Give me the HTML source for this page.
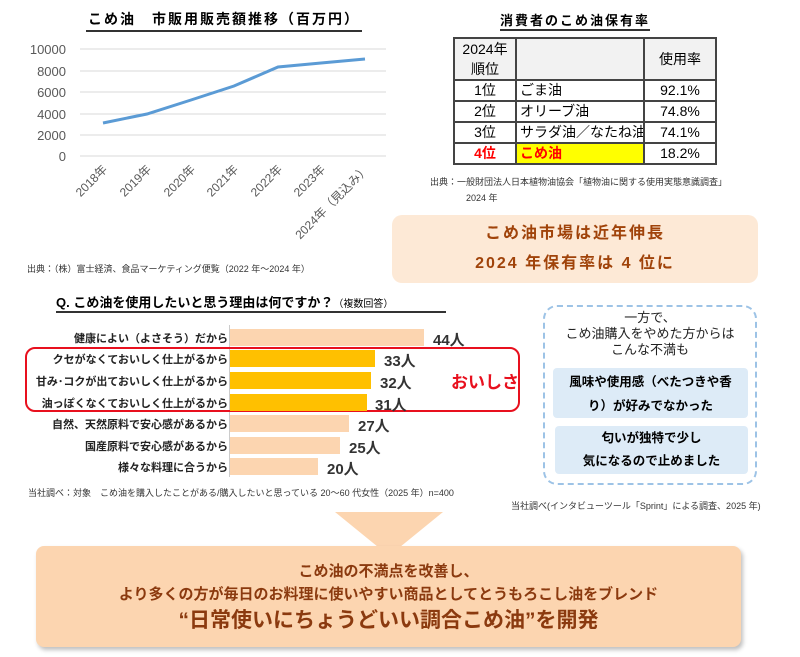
<!DOCTYPE html>
<html><head><meta charset="utf-8"><style>
body{margin:0;width:800px;height:657px;background:#fff;position:relative;overflow:hidden;font-family:"Liberation Sans","Noto Sans CJK JP",sans-serif;}
.a{position:absolute;white-space:nowrap;}
.t{position:absolute;border-collapse:collapse;left:453px;top:37px;font-size:14px;table-layout:fixed;width:262px;}
.t td{border:2px solid #444;padding:0 3px;height:19px;white-space:nowrap;overflow:hidden;line-height:19px;}
.lbl{position:absolute;right:572px;font-size:11px;font-weight:bold;color:#222;}
.bar{position:absolute;left:230px;height:17px;}
.v{position:absolute;font-size:15px;font-weight:bold;color:#333;}
</style></head><body>
<div class="a" style="left:86px;top:9px;font-size:14px;font-weight:bold;letter-spacing:2px;border-bottom:2px solid #333;padding:0 2px 1px">こめ油　市販用販売額推移（百万円）</div>
<svg class="a" style="left:0;top:0" width="400" height="270">
<g stroke="#d9d9d9" stroke-width="1">
<line x1="80" x2="386" y1="49" y2="49"/><line x1="80" x2="386" y1="71" y2="71"/><line x1="80" x2="386" y1="92" y2="92"/><line x1="80" x2="386" y1="114" y2="114"/><line x1="80" x2="386" y1="135" y2="135"/><line x1="80" x2="386" y1="156" y2="156"/></g>
<g font-size="13" fill="#595959" text-anchor="end" font-family="Liberation Sans">
<text x="66" y="54">10000</text><text x="66" y="76">8000</text><text x="66" y="97">6000</text><text x="66" y="119">4000</text><text x="66" y="140">2000</text><text x="66" y="161">0</text></g>
<polyline fill="none" stroke="#5b9bd5" stroke-width="3" points="103,123 147,114 191,100 234,86 278,67 321,63 365,59"/>
<g font-size="12" fill="#595959" text-anchor="end" font-family="Liberation Sans,Noto Sans CJK JP">
<text transform="translate(108,170) rotate(-45)">2018年</text>
<text transform="translate(152,170) rotate(-45)">2019年</text>
<text transform="translate(196,170) rotate(-45)">2020年</text>
<text transform="translate(239,170) rotate(-45)">2021年</text>
<text transform="translate(283,170) rotate(-45)">2022年</text>
<text transform="translate(326,170) rotate(-45)">2023年</text>
<text transform="translate(370,170) rotate(-45)">2024年（見込み）</text>
</g></svg>
<div class="a" style="left:27px;top:262px;font-size:9px;color:#333">出典：（株）富士経済、食品マーケティング便覧（2022 年～2024 年）</div>

<div class="a" style="left:500px;top:10px;font-size:13px;font-weight:bold;letter-spacing:2px;border-bottom:2px solid #333">消費者のこめ油保有率</div>
<table class="t">
<col style="width:62px"><col style="width:128px"><col style="width:72px">
<tr style="background:#f2f2f2"><td style="height:40px;text-align:center;line-height:20px">2024年<br>順位</td><td></td><td style="text-align:center">使用率</td></tr>
<tr><td style="text-align:center">1位</td><td>ごま油</td><td style="text-align:center">92.1%</td></tr>
<tr><td style="text-align:center">2位</td><td>オリーブ油</td><td style="text-align:center">74.8%</td></tr>
<tr><td style="text-align:center">3位</td><td>サラダ油／なたね油</td><td style="text-align:center">74.1%</td></tr>
<tr><td style="text-align:center;color:#f00;font-weight:bold">4位</td><td style="background:#ff0;color:#f00;font-weight:bold">こめ油</td><td style="text-align:center">18.2%</td></tr>
</table>
<div class="a" style="left:430px;top:174px;font-size:9px;color:#333;line-height:16px">出典：一般財団法人日本植物油協会「植物油に関する使用実態意識調査」<br>　　　　2024 年</div>

<div class="a" style="left:392px;top:215px;width:366px;height:68px;background:#fde9d6;border-radius:10px;color:#a0430a;font-weight:bold;font-size:16px;letter-spacing:2px;text-align:center;line-height:30px;padding-top:4px;box-sizing:border-box">こめ油市場は近年伸長<br>2024 年保有率は 4 位に</div>

<div class="a" style="left:56px;top:292px;font-size:13px;font-weight:bold;border-bottom:2px solid #333;width:390px">Q. こめ油を使用したいと思う理由は何ですか？<span style="font-size:10px;font-weight:normal">（複数回答）</span></div>
<div class="a" style="left:229px;top:325px;width:1px;height:152px;background:#ccc"></div>
<div class="a" style="left:25px;top:347px;width:495px;height:65px;border:2px solid #e8101e;border-radius:10px;box-sizing:border-box"></div>
<div class="lbl" style="top:330px">健康によい（よさそう）だから</div>
<div class="bar" style="top:329px;width:194px;background:#fcd5b0"></div><div class="v" style="left:433px;top:329px">44人</div>
<div class="lbl" style="top:351px">クセがなくておいしく仕上がるから</div>
<div class="bar" style="top:350px;width:145px;background:#ffc000"></div><div class="v" style="left:384px;top:350px">33人</div>
<div class="lbl" style="top:373px">甘み･コクが出ておいしく仕上がるから</div>
<div class="bar" style="top:372px;width:141px;background:#ffc000"></div><div class="v" style="left:380px;top:372px">32人</div>
<div class="lbl" style="top:395px">油っぽくなくておいしく仕上がるから</div>
<div class="bar" style="top:394px;width:137px;background:#ffc000"></div><div class="v" style="left:375px;top:394px">31人</div>
<div class="lbl" style="top:416px">自然、天然原料で安心感があるから</div>
<div class="bar" style="top:415px;width:119px;background:#fcd5b0"></div><div class="v" style="left:358px;top:415px">27人</div>
<div class="lbl" style="top:438px">国産原料で安心感があるから</div>
<div class="bar" style="top:437px;width:110px;background:#fcd5b0"></div><div class="v" style="left:349px;top:437px">25人</div>
<div class="lbl" style="top:459px">様々な料理に合うから</div>
<div class="bar" style="top:458px;width:88px;background:#fcd5b0"></div><div class="v" style="left:327px;top:458px">20人</div>
<div class="a" style="left:451px;top:368px;font-size:17px;font-weight:bold;color:#e8101e">おいしさ</div>
<div class="a" style="left:28px;top:486px;font-size:9px;color:#333">当社調べ：対象　こめ油を購入したことがある/購入したいと思っている 20～60 代女性（2025 年）n=400</div>

<div class="a" style="left:543px;top:305px;width:214px;height:180px;border:2px dashed #9dc3e6;border-radius:14px;box-sizing:border-box"></div>
<div class="a" style="left:543px;top:310px;width:214px;text-align:center;font-size:13px;line-height:16px;color:#222">一方で、<br>こめ油購入をやめた方からは<br>こんな不満も</div>
<div class="a" style="left:553px;top:368px;width:195px;height:50px;background:#ddebf7;border-radius:4px;text-align:center;font-size:12.5px;font-weight:bold;line-height:24px;padding-top:2px;box-sizing:border-box">風味や使用感（べたつきや香<br>り）が好みでなかった</div>
<div class="a" style="left:555px;top:426px;width:193px;height:48px;background:#ddebf7;border-radius:4px;text-align:center;font-size:12.5px;font-weight:bold;line-height:23px;padding-top:1px;box-sizing:border-box">匂いが独特で少し<br>気になるので止めました</div>
<div class="a" style="left:511px;top:499px;font-size:9px;color:#333">当社調べ(インタビューツール「Sprint」による調査、2025 年)</div>

<svg class="a" style="left:335px;top:512px" width="108" height="46"><polygon points="0,0 108,0 54,44" fill="#fcd5b0"/></svg>
<div class="a" style="left:36px;top:546px;width:705px;height:101px;background:#fcd5b0;border-radius:8px;box-shadow:2px 3px 4px rgba(0,0,0,0.25);text-align:center;color:#8b3a0f;font-weight:bold;font-size:15px;line-height:23px;padding-top:14px;box-sizing:border-box">こめ油の不満点を改善し、<br>より多くの方が毎日のお料理に使いやすい商品としてとうもろこし油をブレンド<br><span style="font-size:21px;line-height:30px">“日常使いにちょうどいい調合こめ油”を開発</span></div>
</body></html>
